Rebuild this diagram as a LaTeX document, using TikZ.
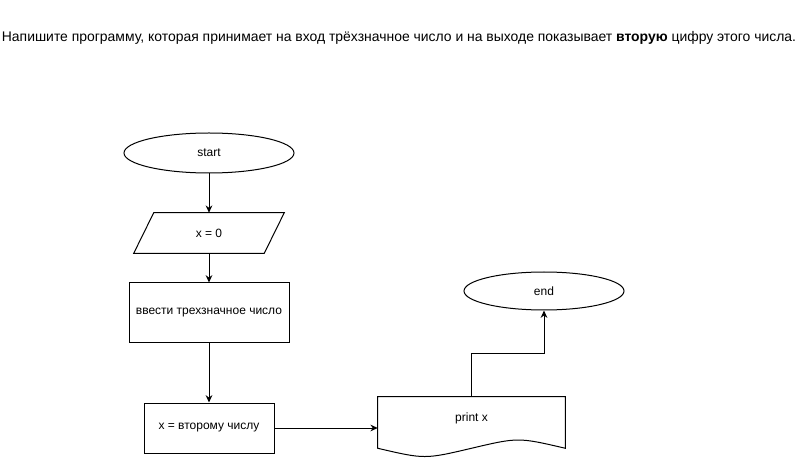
\documentclass[tikz,border=0pt]{standalone}
\usepackage{fontspec}
\setmainfont{Liberation Sans}
\usetikzlibrary{shapes.geometric,arrows.meta,calc}
\tikzset{
  terminal/.style={draw, ellipse, line width=0.75pt, inner sep=0pt,
    minimum width=127.5pt, minimum height=30pt, font=\fontsize{9}{11}\selectfont},
  process/.style={draw, rectangle, line width=0.75pt, inner sep=0pt,
    minimum width=120pt, minimum height=45pt, font=\fontsize{9}{11}\selectfont},
  plain/.style={rectangle, inner sep=0pt, font=\fontsize{9}{11}\selectfont},
  flow/.style={line width=0.75pt, -{Stealth[length=5.5pt,width=5pt]}}
}

\begin{document}
\begin{tikzpicture}[x=0.75pt,y=-0.75pt]
  \useasboundingbox (0,0) rectangle (799,459);
  % task
  \node[font=\fontsize{10.45}{12}\selectfont] (task) at (399,37.5)
    {Напишите программу, которая принимает на вход трёхзначное число и на выходе показывает \textbf{вторую} цифру этого числа.};
  % blocks
  \node[terminal] (start) at (209,153) {start};
  \node[plain, minimum width=112.5pt, minimum height=30pt] (x0) at (209,233) {x = 0};
  \draw[line width=0.75pt] ($(x0.north west)+(20,0)$) -- (x0.north east)
    -- ($(x0.south east)-(20,0)$) -- (x0.south west) -- cycle;
  \node[process] (read) at (209,313) {ввести трехзначное число};
  \node[process, minimum width=97.5pt, minimum height=37.5pt] (digit) at (209,428) {x = второму числу};
  \node[plain, minimum width=140.25pt, minimum height=31.5pt] (prt) at (471.5,418) {print x};
  \draw[line width=0.75pt] (prt.south east) -- (prt.north east) -- (prt.north west)
    -- ($(prt.south west)+(0,9)$) .. controls ($(prt.south)+(-46.75,20)$) .. ($(prt.south)+(0,9)$)
    .. controls ($(prt.south)+(46.75,-2)$) .. ($(prt.south east)+(0,9)$) -- cycle;
  \node[terminal, minimum width=120pt, minimum height=28.5pt] (stop) at (544,291) {end};
  % arrows
  \coordinate (bend) at (471.5,354);
  \draw[flow] (start) -- (x0);
  \draw[flow] (x0) -- (read);
  \draw[flow] (read) -- (digit);
  \draw[flow] (digit.east) -- (digit.east -| prt.west);
  \draw[flow] (prt.north) -- (bend) -| (stop.south);
\end{tikzpicture}
\end{document}
